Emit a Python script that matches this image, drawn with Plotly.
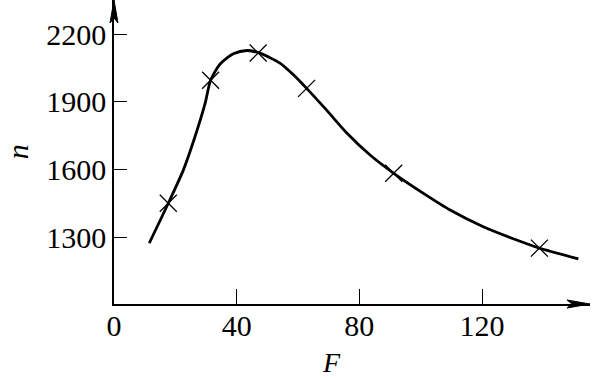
import plotly.graph_objects as go

# measured points (marked with crosses)
pts_F = [17.7, 31.5, 47.0, 62.8, 91.2, 138.7]
pts_n = [1450, 1996, 2117, 1960, 1583, 1251]

# smooth fitted curve
curve_F = [11.5, 17.7, 22.6, 26.4, 29.7, 31.5, 34.6, 38.9, 43.3, 47.6, 54.1, 58.5, 62.8,
           69.4, 75.9, 83.5, 91.2, 100.9, 109.6, 120.4, 131.3, 138.7, 151.4]
curve_n = [1273, 1450, 1597, 1745, 1893, 1996, 2068, 2113, 2128, 2116, 2072, 2020, 1960,
           1862, 1762, 1664, 1583, 1494, 1420, 1346, 1287, 1251, 1203]

x_ticks = [0, 40, 80, 120]
y_ticks = [1300, 1600, 1900, 2200]
x_range = [0, 155.2]
y_range = [1003, 2352]

FONT = "Liberation Serif, Times New Roman, serif"

fig = go.Figure()
fig.add_trace(go.Scatter(x=curve_F, y=curve_n, mode="lines",
                         line=dict(color="black", width=2.8, shape="spline", smoothing=0.7),
                         hoverinfo="skip", showlegend=False))
fig.add_trace(go.Scatter(x=pts_F, y=pts_n, mode="markers",
                         marker=dict(symbol="x-thin", size=17, line=dict(color="black", width=1.3)),
                         showlegend=False))

fig.update_layout(
    width=593, height=378,
    margin=dict(l=114, r=3, t=0, b=74),
    plot_bgcolor="white", paper_bgcolor="white",
    font=dict(family=FONT, size=30, color="black"),
    xaxis=dict(range=x_range, tickvals=x_ticks, ticktext=[str(v) for v in x_ticks],
               ticks="inside", ticklen=15, tickwidth=1.3, tickcolor="black",
               showline=True, linecolor="black", linewidth=1.6, ticklabelstandoff=-6,
               showgrid=False, zeroline=False, fixedrange=True),
    yaxis=dict(range=y_range, tickvals=y_ticks, ticktext=[str(v) for v in y_ticks],
               ticks="inside", ticklen=13, tickwidth=1.3, tickcolor="black",
               showline=True, linecolor="black", linewidth=1.6,
               showgrid=False, zeroline=False, fixedrange=True),
    shapes=[
        dict(type="path", xref="paper", yref="paper", xsizemode="pixel", ysizemode="pixel",
             xanchor=0, yanchor=1,
             path="M 0 0 L -4 -23 L 0 -18 L 4 -23 Z",
             fillcolor="black", line=dict(color="black", width=1)),
        dict(type="path", xref="paper", yref="paper", xsizemode="pixel", ysizemode="pixel",
             xanchor=1, yanchor=0,
             path="M 0 0 L -23 4 L -18 0 L -23 -4 Z",
             fillcolor="black", line=dict(color="black", width=1)),
    ],
    annotations=[
        dict(text="<i>n</i>", xref="paper", yref="paper", x=-0.203, y=0.5,
             xanchor="center", yanchor="middle", showarrow=False, textangle=-90,
             font=dict(size=30)),
        dict(text="<i>F</i>", xref="x", yref="paper", x=71, y=-0.194,
             xanchor="center", yanchor="middle", showarrow=False,
             font=dict(size=28)),
    ],
)

fig.write_html("out.html")
